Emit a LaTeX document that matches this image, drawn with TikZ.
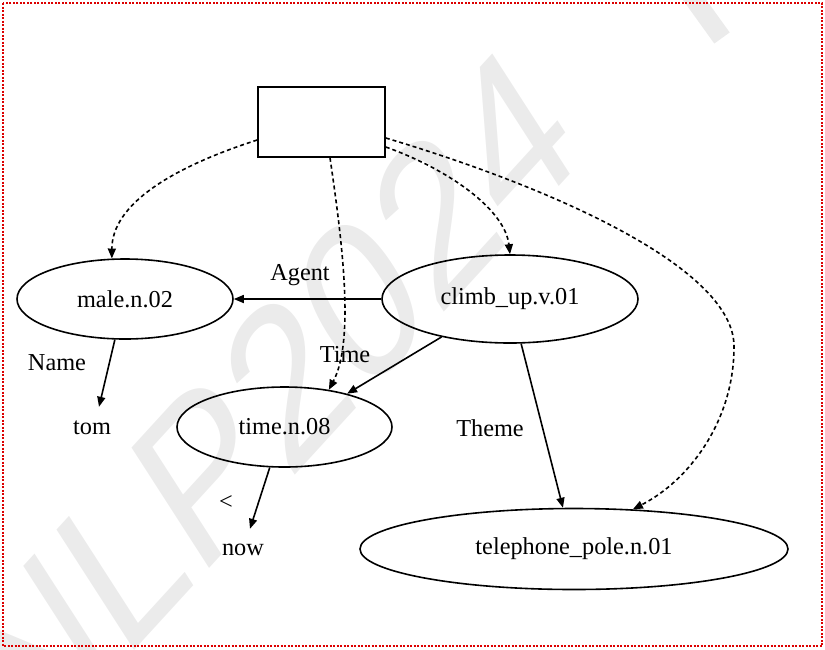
\documentclass[tikz,border=0pt]{standalone}
\usepackage{fontspec}
\setmainfont{Liberation Serif}
\newfontfamily\wmfont{Liberation Sans}
\usetikzlibrary{arrows.meta,shapes.geometric}
\definecolor{wmgray}{RGB}{235,235,235}
\definecolor{frame}{RGB}{220,0,0}
\tikzset{
  ell/.style={ellipse,draw,line width=1.6pt,inner sep=0pt,font=\fontsize{24.3}{29}\selectfont},
  plain/.style={inner sep=0pt,minimum height=42pt,font=\fontsize{24.3}{29}\selectfont},
  lbl/.style={inner sep=0pt,font=\fontsize{24.3}{29}\selectfont},
  rel/.style={line width=1.6pt,-{Triangle[length=10pt,width=8pt]}},
  ref/.style={rel,dash pattern=on 4pt off 3pt}
}
\begin{document}
\begin{tikzpicture}[x=1pt,y=-1pt]
\useasboundingbox (0,0) rectangle (825,649);
\begin{scope}
\clip (0,0) rectangle (825,649);
% faint watermark behind the graph
\begin{scope}[shift={(268,402)},xscale=0.86,yscale=1.12]
\node[text=wmgray,inner sep=0pt,rotate=40,transform shape,
  font=\wmfont\fontsize{204}{204}\selectfont] (wm) at (0,0) {NLP2024};
\end{scope}
\draw[wmgray,line width=19pt] (686,-12) -- (722,38);
\end{scope}
% page frame
\draw[frame,line width=2pt,dash pattern=on 2pt off 1.5pt] (3,3) rectangle (822,646);

% nodes
\node[draw,line width=1.6pt,minimum width=127pt,minimum height=70pt,inner sep=0pt] (box) at (321.5,122) {};
\node[ell,minimum width=216pt,minimum height=80pt] (male) at (125,299) {male.n.02};
\node[ell,minimum width=256pt,minimum height=88pt] (climb) at (510,299) {climb\_up.v.01};
\node[ell,minimum width=215pt,minimum height=80pt] (time) at (284.5,427) {time.n.08};
\node[ell,minimum width=428pt,minimum height=81pt] (tele) at (574,549) {telephone\_pole.n.01};
\node[plain] (tom) at (92,428) {tom};
\node[plain] (now) at (243,550) {now};

% edge labels
\node[lbl] (lagent) at (300,275) {Agent};
\node[lbl] (lname) at (57,363) {Name};
\node[lbl] (ltime) at (345,355) {Time};
\node[lbl] (ltheme) at (490,428) {Theme};
\node[lbl] (lbefore) at (226,503) {<};

% role edges
\draw[rel] (climb.west) -- (male.east);
\draw[rel] (climb.209) -- (time.28);
\draw[rel] (climb.284) -- (tele.105);
\draw[rel] (male.256) -- ([xshift=7pt]tom.north);
\draw[rel] (time.250) -- ([xshift=7pt]now.north);

% dotted links from the box
\draw[ref] ([yshift=-18pt]box.west) .. controls (170,168) and (112,205) .. (male.108);
\draw[ref] ([xshift=8.5pt]box.south) .. controls (342,240) and (355,340) .. (time.40);
\draw[ref] ([yshift=-25pt]box.east) .. controls (450,170) and (505,210) .. (climb.north);
\draw[ref] ([yshift=-16pt]box.east) .. controls (560,190) and (735,270) .. (734,347)
  .. controls (734,420) and (690,480) .. (tele.34);
\end{tikzpicture}
\end{document}
